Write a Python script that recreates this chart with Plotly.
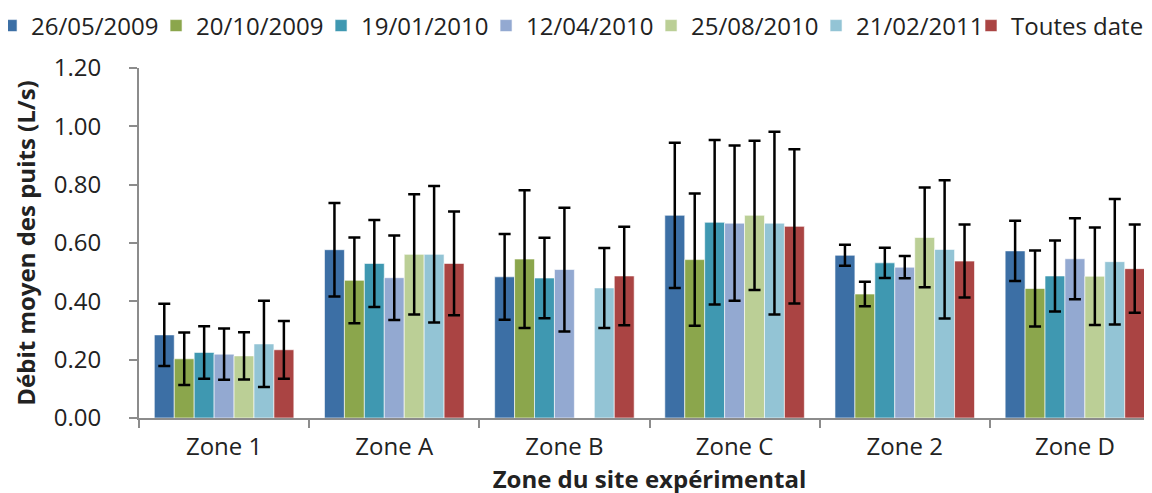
import plotly.graph_objects as go

# zones et séries
zones = ["Zone 1", "Zone A", "Zone B", "Zone C", "Zone 2", "Zone D"]
dates = ["26/05/2009", "20/10/2009", "19/01/2010", "12/04/2010",
         "25/08/2010", "21/02/2011", "Toutes dates"]
colors = ["#3C6FA5", "#8BA64C", "#3F98B1", "#93A9D1", "#BBCF96", "#93C4D5", "#AA4443"]

d_26_05_2009 = [0.285, 0.577, 0.484, 0.695, 0.558, 0.573]
d_20_10_2009 = [0.203, 0.472, 0.545, 0.543, 0.425, 0.444]
d_19_01_2010 = [0.225, 0.530, 0.480, 0.671, 0.532, 0.487]
d_12_04_2010 = [0.219, 0.481, 0.509, 0.668, 0.517, 0.546]
d_25_08_2010 = [0.213, 0.561, None, 0.695, 0.619, 0.486]
d_21_02_2011 = [0.254, 0.561, 0.446, 0.668, 0.578, 0.536]
d_toutes = [0.234, 0.530, 0.487, 0.657, 0.538, 0.512]

# écarts-types (barres d'erreur)
e_26_05_2009 = [0.107, 0.160, 0.147, 0.249, 0.036, 0.103]
e_20_10_2009 = [0.090, 0.147, 0.236, 0.227, 0.042, 0.130]
e_19_01_2010 = [0.090, 0.149, 0.138, 0.282, 0.052, 0.122]
e_12_04_2010 = [0.088, 0.145, 0.212, 0.266, 0.038, 0.139]
e_25_08_2010 = [0.081, 0.206, None, 0.256, 0.171, 0.167]
e_21_02_2011 = [0.148, 0.234, 0.137, 0.313, 0.237, 0.215]
e_toutes = [0.099, 0.178, 0.169, 0.264, 0.125, 0.151]

values = [d_26_05_2009, d_20_10_2009, d_19_01_2010, d_12_04_2010,
          d_25_08_2010, d_21_02_2011, d_toutes]
errors = [e_26_05_2009, e_20_10_2009, e_19_01_2010, e_12_04_2010,
          e_25_08_2010, e_21_02_2011, e_toutes]

fig = go.Figure()
for i, (name, col, v, e) in enumerate(zip(dates, colors, values, errors)):
    fig.add_trace(go.Bar(
        x=zones, y=v, name=name,
        # la dernière entrée va dans une 2e légende pour éviter le retour à la ligne
        legend="legend2" if i == len(dates) - 1 else "legend",
        marker=dict(color=col, line=dict(color="rgba(255,255,255,0.6)", width=1)),
        error_y=dict(type="data", array=e, visible=True,
                     color="black", thickness=2.5, width=6),
    ))

font = "Open Sans, Arial, sans-serif"
leg = dict(orientation="h", xref="paper", xanchor="left",
           y=1.12, yref="paper", yanchor="middle",
           font=dict(size=24), itemwidth=30, tracegroupgap=0,
           bgcolor="rgba(0,0,0,0)")
fig.update_layout(
    width=1152, height=493,
    barmode="group", bargap=0.18, bargroupgap=0,
    paper_bgcolor="white", plot_bgcolor="white",
    margin=dict(l=131, r=0, t=60, b=83, autoexpand=False),
    font=dict(family=font, size=24, color="#222"),
    showlegend=True,
    legend=dict(leg, x=-0.1449, entrywidth=120, entrywidthmode="pixels"),
    legend2=dict(leg, x=1.0, xanchor="right"),
    xaxis=dict(
        showline=True, linecolor="#8c8c8c", linewidth=2,
        ticks="outside", tickson="boundaries", ticklen=8, tickcolor="#8c8c8c", tickwidth=2,
        tickfont=dict(size=24), ticklabelstandoff=6,
        title=dict(text="<b>Zone du site expérimental</b>", font=dict(size=24), standoff=6),
    ),
    yaxis=dict(
        range=[0, 1.2], dtick=0.2, tickformat=".2f",
        showgrid=False, zeroline=False,
        showline=True, linecolor="#8c8c8c", linewidth=2,
        ticks="outside", ticklen=8, tickcolor="#8c8c8c", tickwidth=2,
        tickfont=dict(size=24), ticklabelstandoff=23,
        title=dict(text="<b>Débit moyen des puits (L/s)</b>", font=dict(size=24), standoff=11),
    ),
)

fig.write_html("out.html")
